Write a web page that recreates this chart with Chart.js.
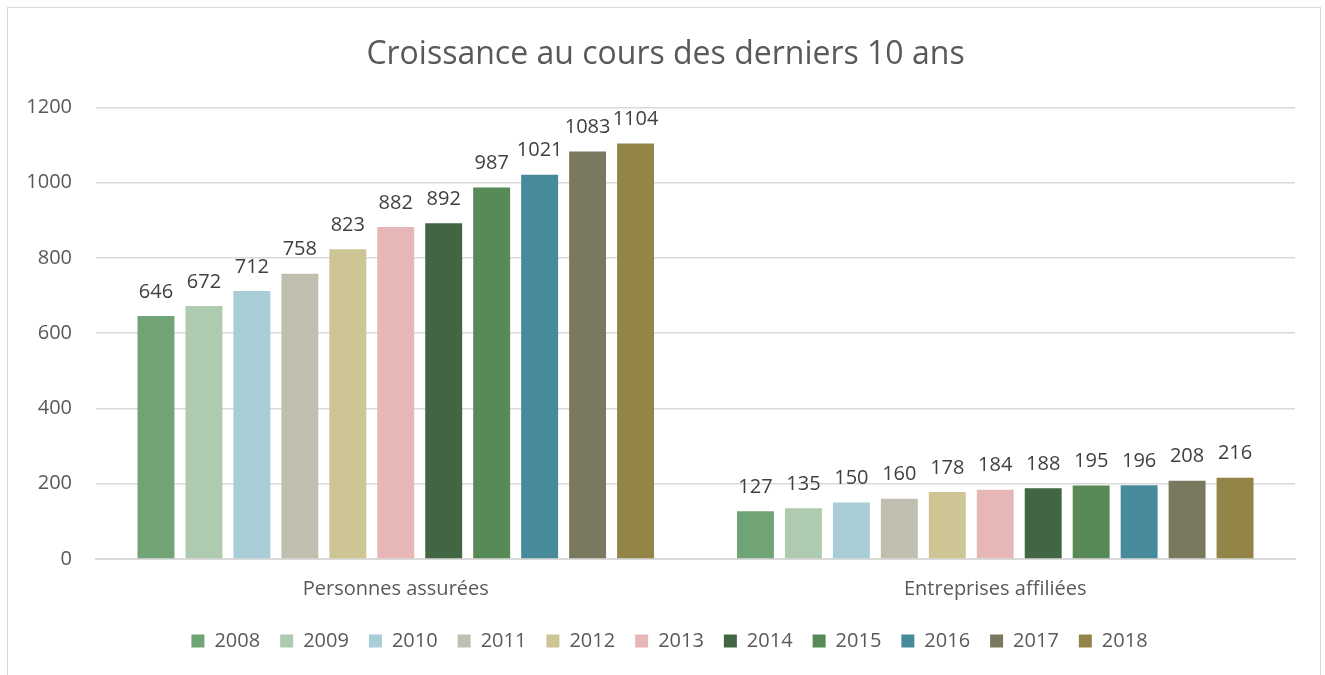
<!DOCTYPE html>
<html lang="fr">
<head>
    <meta charset="UTF-8">
    <title>Croissance au cours des derniers 10 ans</title>
    <script src="https://cdn.jsdelivr.net/npm/chart.js"></script>
    <style>
        body { margin: 0; background: #fff; }
        #wrap { position: relative; width: 1325px; height: 675px; }
        #frame {
            position: absolute; left: 7px; top: 7px; width: 1314px; height: 700px;
            border: 1px solid #d9d9d9; box-sizing: border-box;
        }
        canvas { position: absolute; left: 0; top: 0; }
    </style>
</head>
<body>
<div id="wrap">
    <div id="frame"></div>
    <canvas id="chart" width="1325" height="675"></canvas>
</div>
<script>
    const categories = ['Personnes assurées', 'Entreprises affiliées'];
    const years = ['2008', '2009', '2010', '2011', '2012', '2013', '2014', '2015', '2016', '2017', '2018'];
    const personnes = [646, 672, 712, 758, 823, 882, 892, 987, 1021, 1083, 1104];
    const entreprises = [127, 135, 150, 160, 178, 184, 188, 195, 196, 208, 216];
    const colors = ['#70a375', '#afcbaf', '#a9cdd6', '#c0bfaf', '#cdc593', '#e7b7b7',
                    '#426543', '#578a57', '#478a9b', '#7a785f', '#938447'];

    const FONT = "'Open Sans', sans-serif";

    // valeurs au-dessus des barres
    const valueLabels = {
        id: 'valueLabels',
        afterDatasetsDraw(chart) {
            const ctx = chart.ctx;
            ctx.save();
            ctx.font = '20px ' + FONT;
            ctx.fillStyle = '#404040';
            ctx.textAlign = 'center';
            ctx.textBaseline = 'middle';
            chart.data.datasets.forEach((ds, i) => {
                chart.getDatasetMeta(i).data.forEach((bar, j) => {
                    ctx.fillText(ds.data[j], bar.x, bar.y - 24);
                });
            });
            ctx.restore();
        }
    };

    // titre et légende un peu décalés vers la droite, comme dans l'original
    const nudge = {
        id: 'nudge',
        afterLayout(chart) {
            chart.legend.left += 12; chart.legend.right += 12;
            chart.titleBlock.left += 8; chart.titleBlock.right += 8;
        }
    };

    const datasets = years.map((y, i) => ({
        label: y,
        data: [personnes[i], entreprises[i]],
        backgroundColor: colors[i],
        borderWidth: 0,
        categoryPercentage: 0.88,
        barPercentage: 0.77
    }));

    new Chart(document.getElementById('chart'), {
        type: 'bar',
        data: { labels: categories, datasets: datasets },
        plugins: [valueLabels, nudge],
        options: {
            responsive: false,
            animation: false,
            layout: { padding: { left: 20, right: 30, top: 0, bottom: 14 } },
            plugins: {
                title: {
                    display: true,
                    text: 'Croissance au cours des derniers 10 ans',
                    color: '#595959',
                    font: { family: FONT, size: 32, weight: 'normal' },
                    padding: { top: 36, bottom: 33 }
                },
                legend: {
                    position: 'bottom',
                    labels: {
                        boxWidth: 13,
                        boxHeight: 13,
                        padding: 20,
                        color: '#595959',
                        font: { family: FONT, size: 20 }
                    }
                },
                tooltip: { enabled: false }
            },
            scales: {
                x: {
                    grid: { display: false },
                    border: { color: '#d9d9d9', width: 2 },
                    ticks: { color: '#595959', padding: 10, font: { family: FONT, size: 20 } },
                    afterFit(scale) { scale.height = 52; }
                },
                y: {
                    min: 0,
                    max: 1200,
                    ticks: {
                        stepSize: 200, color: '#595959', padding: 24,
                        font: { family: FONT, size: 20 },
                        callback: v => String(v)
                    },
                    grid: { color: '#d9d9d9', lineWidth: 1.5, drawTicks: false },
                    border: { display: false },
                    afterFit(scale) { scale.width = 76; }
                }
            }
        }
    });
</script>
</body>
</html>
